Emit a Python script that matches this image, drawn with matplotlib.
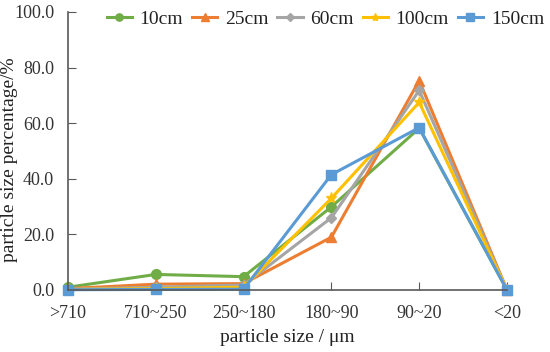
import matplotlib
matplotlib.use("Agg")
import matplotlib.pyplot as plt
from matplotlib.ticker import FormatStrFormatter

categories = [">710", "710~250", "250~180", "180~90", "90~20", "<20"]
series_names = ["10cm", "25cm", "60cm", "100cm", "150cm"]
v10 = [1.0, 5.6, 4.8, 29.9, 58.2, 0.0]
v25 = [0.5, 2.1, 2.3, 19.0, 75.3, 0.0]
v60 = [0.3, 1.0, 1.8, 26.0, 71.8, 0.0]
v100 = [0.2, 0.5, 1.0, 33.0, 67.5, 0.0]
v150 = [0.1, 0.2, 0.3, 41.5, 58.4, 0.0]
values = [v10, v25, v60, v100, v150]

colors = ["#70AD47", "#ED7D31", "#A5A5A5", "#FFC000", "#5B9BD5"]
markers = ["o", "^", "D", "*", "s"]
msizes = [7, 7, 5, 8, 7]

plt.rcParams["font.family"] = ["Liberation Serif", "DejaVu Serif"]

fig = plt.figure(figsize=(5.5, 3.52), dpi=100)
ax = fig.add_axes([68/550, 1-290/352, (507-68)/550, (290-12)/352])

x = list(range(len(categories)))
for name, vals, c, m, ms in zip(series_names, values, colors, markers, msizes):
    ax.plot(x, vals, color=c, marker=m, markersize=ms, linewidth=2.2, label=name,
            markeredgecolor=c, clip_on=False)

ax.set_xlim(0, len(categories) - 1)
ax.set_ylim(0, 100)
ax.set_yticks([0, 20, 40, 60, 80, 100])
ax.yaxis.set_major_formatter(FormatStrFormatter("%.1f"))
ax.set_xticks(x)
ax.set_xticklabels(categories)
for s in ["top", "right"]:
    ax.spines[s].set_visible(False)
for s in ["left", "bottom"]:
    ax.spines[s].set_color("#595959")
    ax.spines[s].set_linewidth(1.2)
ax.tick_params(axis="both", direction="in", length=6, color="#595959", labelsize=13,
               labelcolor="#333333")
ax.tick_params(axis="x", pad=11)
ax.tick_params(axis="y", pad=10)
ax.set_xlabel("particle size / μm", fontsize=14, color="#222222", labelpad=5)
ax.set_ylabel("particle size percentage/%", fontsize=14, color="#222222")
ax.yaxis.set_label_coords(-0.115, 0.47)

leg = ax.legend(loc="upper left", bbox_to_anchor=(0.07, 1.035), ncol=5, frameon=False,
                fontsize=14, handlelength=1.3, handletextpad=0.4, columnspacing=0.45,
                borderaxespad=0, markerscale=0.75)
for t in leg.get_texts():
    t.set_color("#222222")

fig.savefig("out.png", dpi=100)
